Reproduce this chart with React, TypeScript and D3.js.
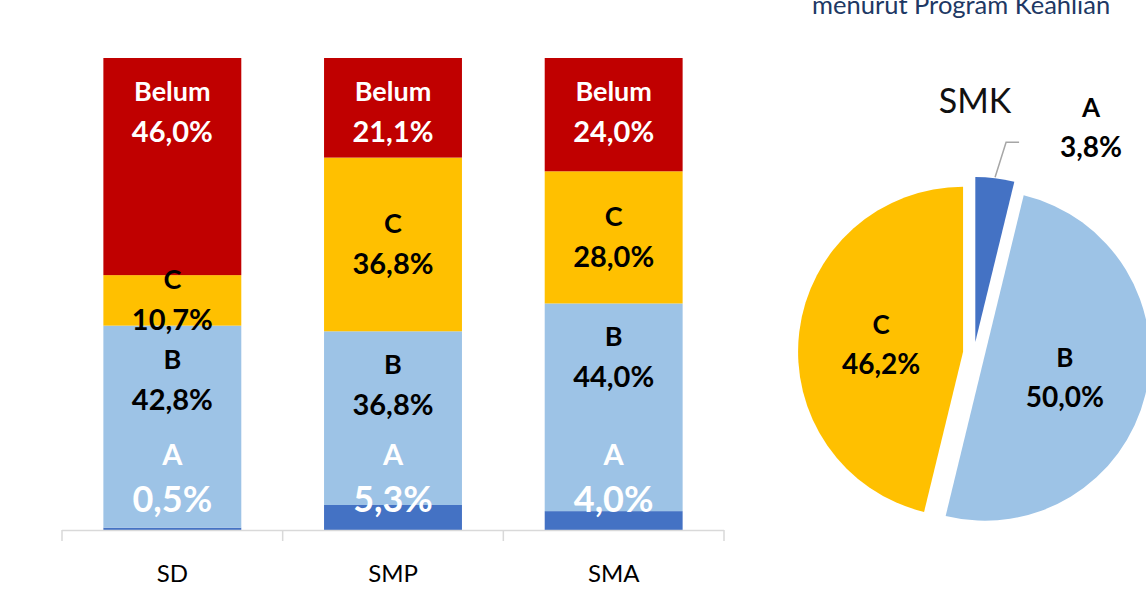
import React from 'react';
import * as d3 from 'd3';

// ---------- data ----------
const categories = ['SD', 'SMP', 'SMA'];
const seriesNames = ['A', 'B', 'C', 'Belum'];
const valuesA = [0.5, 5.3, 4.0];
const valuesB = [42.8, 36.8, 44.0];
const valuesC = [10.7, 36.8, 28.0];
const valuesBelum = [46.0, 21.1, 24.0];

const pieTitle = 'SMK';
const pieLabels = ['A', 'B', 'C'];
const pieValues = [3.8, 50.0, 46.2];

const titleText = 'menurut Program Keahlian';

// ---------- style / layout ----------
const W = 1146;
const H = 604;
const FONT = 'Lato, "Open Sans", sans-serif';
const colors: Record<string, string> = {
  A: '#4472C4',
  B: '#9DC3E6',
  C: '#FFC000',
  Belum: '#C00000',
};
const labelColors: Record<string, string> = {
  A: '#FFFFFF',
  B: '#000000',
  C: '#000000',
  Belum: '#FFFFFF',
};

const fmt = (v: number) => v.toFixed(1).replace('.', ',') + '%';

export default function App() {
  // bar chart scales
  const x = d3.scaleBand<string>().domain(categories).range([62, 724]).padding(0);
  const y = d3.scaleLinear().domain([0, 100]).range([530, 58]);
  const barW = x.bandwidth() * 0.625;

  const rows = categories.map((c, i) => ({
    cat: c,
    A: valuesA[i],
    B: valuesB[i],
    C: valuesC[i],
    Belum: valuesBelum[i],
  }));
  const stack = d3.stack<any>().keys(seriesNames)(rows);

  // pie
  const cx = 974;
  const cy = 353;
  const R = 165;
  const explode = 11;
  const pie = d3
    .pie<number>()
    .sort(null)
    .startAngle(0)
    .endAngle(2 * Math.PI)(pieValues);
  const arc = d3.arc<d3.PieArcDatum<number>>().innerRadius(0).outerRadius(R);

  const boundaries = [...categories.map((c) => x(c) as number), (x(categories[categories.length - 1]) as number) + x.bandwidth()];

  return (
    <svg
      width={W}
      height={H}
      style={{ position: 'absolute', left: 0, top: 0, background: '#fff' }}
      fontFamily={FONT}
    >
      <rect width={W} height={H} fill="#fff" />
      {/* title (cut at top) */}
      <text x={812} y={14} fontSize={25.5} fill="#203864">
        {titleText}
      </text>

      {/* bars */}
      {stack.map((layer) => (
        <g key={layer.key}>
          {layer.map((d, i) => {
            const cat = categories[i];
            const bx = (x(cat) as number) + (x.bandwidth() - barW) / 2;
            return (
              <rect
                key={cat}
                x={bx}
                y={y(d[1])}
                width={barW}
                height={y(d[0]) - y(d[1])}
                fill={colors[layer.key]}
              />
            );
          })}
        </g>
      ))}

      {/* axis */}
      <line x1={boundaries[0]} x2={boundaries[boundaries.length - 1]} y1={y(0) + 0.5} y2={y(0) + 0.5} stroke="#D9D9D9" strokeWidth={1.5} />
      {boundaries.map((b, i) => (
        <line key={i} x1={b} x2={b} y1={y(0)} y2={y(0) + 11} stroke="#D9D9D9" strokeWidth={1.5} />
      ))}
      {categories.map((c) => (
        <text
          key={c}
          x={(x(c) as number) + x.bandwidth() / 2}
          y={582}
          fontSize={24}
          textAnchor="middle"
          fill="#000"
        >
          {c}
        </text>
      ))}

      {/* bar labels */}
      {stack.map((layer) => (
        <g key={'lbl' + layer.key}>
          {layer.map((d, i) => {
            const cat = categories[i];
            const cxBar = (x(cat) as number) + x.bandwidth() / 2;
            const key = layer.key as string;
            const value = (rows[i] as any)[key] as number;
            const top = y(d[1]);
            const bottom = y(d[0]);
            let center: number;
            let nameSize = 27;
            let valueSize = 29;
            let nameDy = -11;
            let valueDy = 30;
            if (key === 'A') {
              center = y(0) - 52;
              nameSize = 29;
              valueSize = 36;
              nameDy = -13;
              valueDy = 34;
            } else if (key === 'C') {
              center = (top + bottom) / 2;
            } else {
              center = top + 54;
            }
            return (
              <g key={cat} fontWeight={700} fill={labelColors[key]} textAnchor="middle">
                <text x={cxBar} y={center + nameDy} fontSize={nameSize}>
                  {key}
                </text>
                <text x={cxBar} y={center + valueDy} fontSize={valueSize}>
                  {fmt(value)}
                </text>
              </g>
            );
          })}
        </g>
      ))}

      {/* pie */}
      <text x={975} y={113} fontSize={34} textAnchor="middle" fill="#111">
        {pieTitle}
      </text>
      {pie.map((p, i) => {
        const mid = (p.startAngle + p.endAngle) / 2;
        const ox = Math.sin(mid) * explode;
        const oy = -Math.cos(mid) * explode;
        const [lx, ly] = arc.centroid(p);
        const inside = pieValues[i] > 10;
        return (
          <g key={pieLabels[i]} transform={`translate(${cx + ox},${cy + oy})`}>
            <path d={arc(p) as string} fill={colors[pieLabels[i]]} />
            {inside && (
              <g fontWeight={700} textAnchor="middle" fill="#000">
                <text x={lx} y={ly - 12 + 4} fontSize={26}>
                  {pieLabels[i]}
                </text>
                <text x={lx} y={ly + 28 + 4} fontSize={28}>
                  {fmt(pieValues[i])}
                </text>
              </g>
            )}
          </g>
        );
      })}
      {pie.map((p, i) => {
        if (pieValues[i] > 10) return null;
        const mid = (p.startAngle + p.endAngle) / 2;
        const rr = R + explode + 1;
        const p0x = cx + Math.sin(mid) * rr;
        const p0y = cy - Math.cos(mid) * rr;
        const p1x = p0x + 11;
        const p1y = p0y - 35;
        const p2x = p1x + 13;
        const labelX = p2x + 72;
        const labelCY = p1y - 13;
        return (
          <g key={'out' + i}>
            <polyline
              points={`${p0x},${p0y} ${p1x},${p1y} ${p2x},${p1y}`}
              fill="none"
              stroke="#A6A6A6"
              strokeWidth={1.5}
            />
            <g fontWeight={700} textAnchor="middle" fill="#000">
              <text x={labelX} y={labelCY - 12} fontSize={26}>
                {pieLabels[i]}
              </text>
              <text x={labelX} y={labelCY + 28} fontSize={28}>
                {fmt(pieValues[i])}
              </text>
            </g>
          </g>
        );
      })}
    </svg>
  );
}
